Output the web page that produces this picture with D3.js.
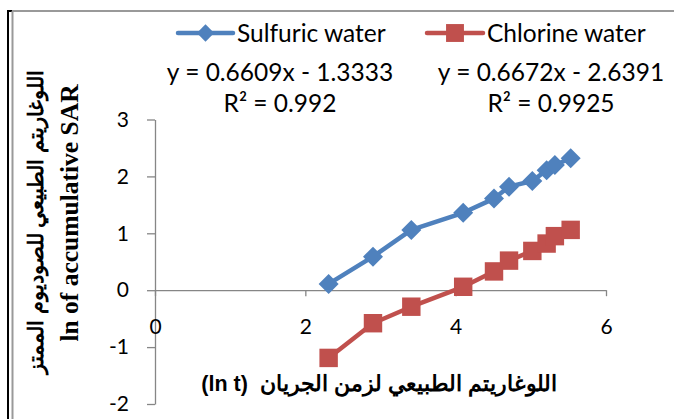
<!DOCTYPE html>
<html>
<head>
<meta charset="utf-8">
<script src="https://cdn.jsdelivr.net/npm/d3@7"></script>
<style>
  html, body { margin: 0; padding: 0; background: #fff; }
  svg { display: block; }
</style>
</head>
<body>
<div id="chart"></div>
<script>
// values (ln t against ln of accumulative SAR)
const lnT = [2.31, 2.90, 3.41, 4.10, 4.51, 4.71, 5.02, 5.21, 5.32, 5.53];
const sulfuric = [0.11, 0.59, 1.06, 1.36, 1.61, 1.82, 1.92, 2.11, 2.20, 2.32];
const chlorine = [-1.19, -0.58, -0.29, 0.06, 0.33, 0.52, 0.69, 0.82, 0.95, 1.06];
const seriesNames = ['Sulfuric water', 'Chlorine water'];
const equations = ['y = 0.6609x - 1.3333', 'y = 0.6672x - 2.6391'];
const r2Values = ['0.992', '0.9925'];
const xTicks = [0, 2, 4, 6];
const yTicks = [-2, -1, 0, 1, 2, 3];

const width = 674, height = 419;
const blue = '#4F81BD', red = '#C0504D', axisColor = '#868686';
const sansFont = 'Lato, "Open Sans", sans-serif';

const svg = d3.select('#chart').append('svg')
    .attr('width', width)
    .attr('height', height);

svg.append('rect').attr('width', width).attr('height', height).attr('fill', '#fff');

// outer frame (double line on the left, grey on top)
svg.append('line').attr('x1', 8).attr('y1', 11).attr('x2', 8).attr('y2', height)
    .attr('stroke', '#000').attr('stroke-width', 2);
svg.append('line').attr('x1', 7).attr('y1', 11).attr('x2', 13).attr('y2', 11)
    .attr('stroke', '#000').attr('stroke-width', 2);
svg.append('line').attr('x1', 12.5).attr('y1', 11).attr('x2', 12.5).attr('y2', height)
    .attr('stroke', '#999').attr('stroke-width', 2);
svg.append('line').attr('x1', 12).attr('y1', 11).attr('x2', width).attr('y2', 11)
    .attr('stroke', '#999').attr('stroke-width', 2);

const x = d3.scaleLinear().domain([0, 6]).range([155, 606]);
const y = d3.scaleLinear().domain([-2, 3]).range([404, 119.5]);

// y axis (ticks outside on the left)
const yAxis = svg.append('g')
    .attr('transform', `translate(${x(0)},0)`)
    .call(d3.axisLeft(y).tickValues(yTicks).tickFormat(d => String(d))
        .tickSize(8).tickSizeOuter(0).tickPadding(18));
// x axis sits on y = 0, labels pushed down
const xAxis = svg.append('g')
    .attr('transform', `translate(0,${y(0)})`)
    .call(d3.axisBottom(x).tickValues(xTicks).tickFormat(d => String(d))
        .tickSize(6).tickSizeOuter(0).tickPadding(23));

[yAxis, xAxis].forEach(g => {
    g.select('.domain').attr('stroke', axisColor).attr('stroke-width', 1.3);
    g.selectAll('.tick line').attr('stroke', axisColor).attr('stroke-width', 1.3);
    g.selectAll('.tick text')
        .attr('font-family', sansFont)
        .attr('font-size', 21)
        .attr('fill', '#000');
});

// series
const diamond = d3.symbol().type(d3.symbolSquare).size(200);
const square = d3.symbol().type(d3.symbolSquare).size(340);
const series = [
    { name: seriesNames[0], values: sulfuric, color: blue, marker: diamond, rot: 45 },
    { name: seriesNames[1], values: chlorine, color: red, marker: square, rot: 0 }
];

const line = d3.line().x(d => x(d[0])).y(d => y(d[1]));

series.forEach(s => {
    const pts = lnT.map((t, i) => [t, s.values[i]]);
    svg.append('path')
        .datum(pts)
        .attr('d', line)
        .attr('fill', 'none')
        .attr('stroke', s.color)
        .attr('stroke-width', 4.5)
        .attr('stroke-linejoin', 'round');
    svg.append('g').selectAll('path')
        .data(pts)
        .join('path')
        .attr('transform', d => `translate(${x(d[0])},${y(d[1])}) rotate(${s.rot})`)
        .attr('d', s.marker)
        .attr('fill', s.color);
});

// legend
const legendItems = [
    { x0: 178, x1: 233, tx: 237 },
    { x0: 427, x1: 483, tx: 487 }
];
const legendMarkers = [d3.symbol().type(d3.symbolSquare).size(150), d3.symbol().type(d3.symbolSquare).size(320)];
series.forEach((s, i) => {
    const L = legendItems[i];
    const ly = 33;
    svg.append('line').attr('x1', L.x0).attr('x2', L.x1).attr('y1', ly).attr('y2', ly)
        .attr('stroke', s.color).attr('stroke-width', 4.5).attr('stroke-linecap', 'round');
    svg.append('path')
        .attr('transform', `translate(${(L.x0 + L.x1) / 2},${ly}) rotate(${s.rot})`)
        .attr('d', legendMarkers[i])
        .attr('fill', s.color);
    svg.append('text')
        .attr('x', L.tx).attr('y', ly)
        .attr('dy', '0.36em')
        .attr('font-family', sansFont)
        .attr('font-size', 24.5)
        .attr('fill', '#000')
        .text(s.name);
});

// trendline equations
const eqCenters = [280, 551];
equations.forEach((eq, i) => {
    svg.append('text')
        .attr('x', eqCenters[i]).attr('y', 72).attr('dy', '0.36em')
        .attr('text-anchor', 'middle')
        .attr('font-family', sansFont)
        .attr('font-size', 24.5)
        .attr('fill', '#000')
        .text(eq);
    svg.append('text')
        .attr('x', eqCenters[i]).attr('y', 103).attr('dy', '0.36em')
        .attr('text-anchor', 'middle')
        .attr('font-family', sansFont)
        .attr('font-size', 24.5)
        .attr('fill', '#000')
        .text('R² = ' + r2Values[i]);
});

// axis titles
svg.append('text')
    .attr('transform', 'translate(35,222) rotate(-90)')
    .attr('text-anchor', 'middle')
    .attr('dy', '0.35em')
    .attr('font-family', '"Liberation Sans", Arial, sans-serif')
    .attr('font-weight', 'bold')
    .attr('font-size', 21.4)
    .text('اللوغاريتم الطبيعي للصوديوم الممتز');
svg.append('text')
    .attr('transform', 'translate(69,213) rotate(-90)')
    .attr('text-anchor', 'middle')
    .attr('dy', '0.35em')
    .attr('font-family', '"Liberation Serif", "Times New Roman", serif')
    .attr('font-weight', 'bold')
    .attr('font-size', 25.5)
    .text('ln of accumulative SAR');
svg.append('text')
    .attr('x', 379).attr('y', 383)
    .attr('dy', '0.35em')
    .attr('text-anchor', 'middle')
    .style('white-space', 'pre')
    .attr('font-family', '"Liberation Sans", Arial, sans-serif')
    .attr('font-weight', 'bold')
    .attr('font-size', 21.5)
    .text('(ln t)  اللوغاريتم الطبيعي لزمن الجريان');
</script>
</body>
</html>
